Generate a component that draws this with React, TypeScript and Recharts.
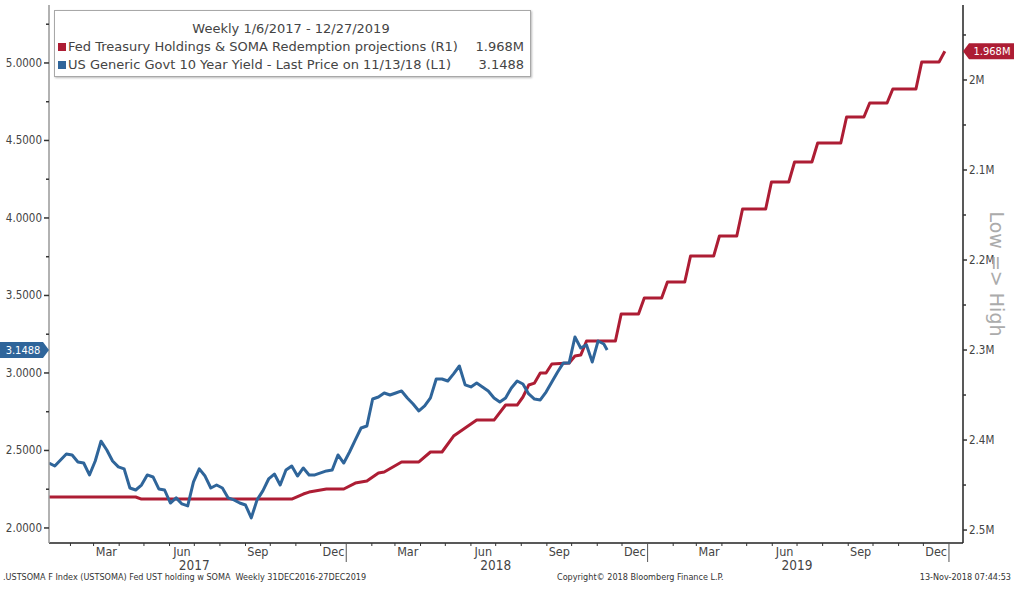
import React from 'react';
import { LineChart, Line, XAxis, YAxis } from 'recharts';

// 10Y yield, weekly closes starting Fri 1/6/2017 (week index 0)
const yieldWeekly = [
  2.419, 2.400, 2.439, 2.477, 2.471, 2.426, 2.419, 2.342, 2.432, 2.56,
  2.503, 2.432, 2.394, 2.381, 2.258, 2.245, 2.277, 2.342, 2.329, 2.252,
  2.245, 2.161, 2.194, 2.155, 2.142, 2.297, 2.381, 2.335, 2.258, 2.277,
  2.258, 2.194, 2.181, 2.161, 2.148, 2.065, 2.181, 2.239, 2.316, 2.348,
  2.277, 2.374, 2.400, 2.335, 2.387, 2.342, 2.342, 2.355, 2.368, 2.374,
  2.471, 2.419, 2.490, 2.568, 2.645, 2.658, 2.832, 2.845, 2.871, 2.858,
  2.871, 2.884, 2.839, 2.800, 2.755, 2.787, 2.839, 2.961, 2.961, 2.948,
  2.994, 3.045, 2.923, 2.910, 2.935, 2.910, 2.884, 2.839, 2.813, 2.839,
  2.903, 2.948, 2.929, 2.865, 2.832, 2.826, 2.877, 2.942, 3.006, 3.065,
  3.065, 3.232, 3.161, 3.181, 3.071, 3.206, 3.187,
];
const yieldLastDay = 676; // 11/13/2018
const yieldLast = 3.1488;

// Fed UST holdings (M), step vertices by week index
const somaWeeks = [
  0, 15, 16, 42, 44, 45, 48, 51, 53, 55, 57, 58, 61, 64, 66, 68, 70, 71, 72, 74,
  77, 79, 81, 82, 83, 84, 85, 86, 87, 90, 91, 92, 93, 98, 99, 102, 103, 106, 107, 110,
  111, 115, 116, 119, 120, 124, 125, 128, 129, 132, 133, 137, 138, 141, 142, 145, 146, 150, 151, 154,
  155,
];
const somaValues = [
  2.4633, 2.4633, 2.4656, 2.4656, 2.46, 2.4578, 2.4544, 2.4544, 2.4478, 2.4456, 2.4367, 2.4356, 2.4244, 2.4244, 2.4133, 2.4133, 2.3956, 2.3911, 2.3867, 2.3778,
  2.3778, 2.3611, 2.3611, 2.3522, 2.3389, 2.3367, 2.3256, 2.3256, 2.3156, 2.3144, 2.3067, 2.3056, 2.29, 2.29, 2.26, 2.26, 2.2422, 2.2422, 2.2244, 2.2244,
  2.1956, 2.1956, 2.1733, 2.1733, 2.1433, 2.1433, 2.1133, 2.1133, 2.0911, 2.0911, 2.07, 2.07, 2.0411, 2.0411, 2.0256, 2.0256, 2.01, 2.01, 1.98, 1.98,
  1.968,
];
const somaLast = 1.968;

const monthNames = ['Jan', 'Feb', 'Mar', 'Apr', 'May', 'Jun', 'Jul', 'Aug', 'Sep', 'Oct', 'Nov', 'Dec'];
const labeledMonths = ['Mar', 'Jun', 'Sep', 'Dec'];
const axisYears = [2017, 2018, 2019, 2020];
const leftTickValues = [2.0, 2.25, 2.5, 2.75, 3.0, 3.25, 3.5, 3.75, 4.0, 4.25, 4.5, 4.75, 5.0, 5.25];
const leftLabelValues = [2.0, 2.5, 3.0, 3.5, 4.0, 4.5, 5.0];
const rightTickValues = [1.95, 2.0, 2.05, 2.1, 2.15, 2.2, 2.25, 2.3, 2.35, 2.4, 2.45, 2.5];
const rightLabelValues = [2.0, 2.1, 2.2, 2.3, 2.4, 2.5];

const BLUE = '#2f659a';
const RED = '#ad1d34';
const FONT = "Tahoma, 'DejaVu Sans Condensed', 'DejaVu Sans', sans-serif";
const WIDE_FONT = "'DejaVu Sans', sans-serif";

const X_MIN = 0;
const X_MAX = 1107;
const START = Date.UTC(2017, 0, 6);
const dayOf = (y: number, m: number, d: number) => (Date.UTC(y, m, d) - START) / 864e5;

const blueData = [
  ...yieldWeekly.map((v, i) => ({ day: i * 7, v })),
  { day: yieldLastDay, v: yieldLast },
];
const redData = somaWeeks.map((w, i) => ({ day: w * 7, v: somaValues[i] }));

type XInfo = { kind: 'minor' | 'year' | 'label'; text?: string; year?: number };
const xInfo = new Map<number, XInfo>();
axisYears.forEach((y) => {
  for (let m = 0; m < 12; m++) {
    const s = dayOf(y, m, 1);
    const e = dayOf(y, m + 1, 1);
    if (s >= X_MIN && s <= X_MAX) {
      xInfo.set(s, { kind: m === 0 ? 'year' : 'minor', year: m === 6 ? y : undefined });
    }
    const mid = (s + e) / 2;
    if (labeledMonths.includes(monthNames[m]) && mid >= X_MIN && mid <= X_MAX) {
      xInfo.set(mid, { kind: 'label', text: monthNames[m] });
    }
  }
});
const xTicks = Array.from(xInfo.keys()).sort((a, b) => a - b);

const XTick = (props: any) => {
  const { x, y, payload } = props;
  const info = xInfo.get(payload.value);
  if (!info) return null;
  if (info.kind === 'label') {
    return (
      <text x={x} y={y + 13} textAnchor="middle" fontFamily={FONT} fontSize={12.5} fill="#444">
        {info.text}
      </text>
    );
  }
  return (
    <g>
      <line x1={x} x2={x} y1={y} y2={y + (info.kind === 'year' ? 19 : 3)} stroke={info.kind === 'year' ? '#555' : '#333'} strokeWidth={1} />
      {info.year ? (
        <text x={x} y={y + 27} textAnchor="middle" fontFamily={FONT} fontSize={13.5} fill="#444">
          {info.year}
        </text>
      ) : null}
    </g>
  );
};

const LeftTick = (props: any) => {
  const { x, y, payload } = props;
  const v = payload.value;
  if (v === yieldLast) {
    return (
      <g>
        <polygon points={`${x - 49},${y - 8} ${x - 6},${y - 8} ${x},${y} ${x - 6},${y + 8} ${x - 49},${y + 8}`} fill={BLUE} />
        <text x={x - 26} y={y + 4} textAnchor="middle" fontFamily={FONT} fontSize={11} fill="#fff">
          {yieldLast.toFixed(4)}
        </text>
      </g>
    );
  }
  const major = leftLabelValues.includes(v);
  return (
    <g>
      <line x1={x - (major ? 5 : 3)} x2={x} y1={y} y2={y} stroke="#333" strokeWidth={1.5} />
      {major ? (
        <text x={x - 7} y={y + 4} textAnchor="end" fontFamily={FONT} fontSize={11.5} fill="#444">
          {v.toFixed(4)}
        </text>
      ) : null}
    </g>
  );
};

const RightTick = (props: any) => {
  const { x, y, payload } = props;
  const v = payload.value;
  if (v === somaLast) {
    return (
      <g>
        <polygon points={`${x},${y} ${x + 6},${y - 8} ${x + 51},${y - 8} ${x + 51},${y + 8} ${x + 6},${y + 8}`} fill={RED} />
        <text x={x + 29} y={y + 4} textAnchor="middle" fontFamily={FONT} fontSize={11} fill="#fff">
          {somaLast.toFixed(3)}M
        </text>
      </g>
    );
  }
  const major = rightLabelValues.some((r) => Math.abs(r - v) < 1e-9);
  return (
    <g>
      <line x1={x} x2={x + (major ? 4 : 3)} y1={y} y2={y} stroke="#333" strokeWidth={1.5} />
      {major ? (
        <text x={x + 6} y={y + 4} textAnchor="start" fontFamily={FONT} fontSize={11.5} fill="#444">
          {`${parseFloat(v.toFixed(1))}M`}
        </text>
      ) : null}
    </g>
  );
};

const legendTitle = 'Weekly 1/6/2017 - 12/27/2019';
const legendRows = [
  { color: RED, name: 'Fed Treasury Holdings & SOMA Redemption projections (R1)', value: '1.968M' },
  { color: BLUE, name: 'US Generic Govt 10 Year Yield - Last Price on 11/13/18 (L1)', value: '3.1488' },
];

export default function App() {
  return (
    <div style={{ position: 'absolute', left: 0, top: 0, width: 1024, height: 603, background: '#fff', fontFamily: FONT }}>
      <LineChart width={1024} height={603} margin={{ top: 5, right: 0, bottom: 0, left: 0 }}>
        <XAxis
          dataKey="day"
          type="number"
          domain={[X_MIN, X_MAX]}
          ticks={xTicks}
          interval={0}
          tick={<XTick />}
          tickLine={false}
          tickSize={0}
          tickMargin={0}
          height={60}
          axisLine={{ stroke: '#222', strokeWidth: 1.5 }}
          allowDataOverflow
        />
        <YAxis
          yAxisId="left"
          orientation="left"
          type="number"
          width={49}
          domain={[1.903, 5.374]}
          ticks={[...leftTickValues, yieldLast]}
          interval={0}
          tick={<LeftTick />}
          tickLine={false}
          tickSize={0}
          tickMargin={0}
          axisLine={{ stroke: '#999', strokeWidth: 1.5 }}
          allowDataOverflow
        />
        <YAxis
          yAxisId="right"
          orientation="right"
          type="number"
          width={61}
          reversed
          domain={[1.9167, 2.5144]}
          ticks={[...rightTickValues, somaLast]}
          interval={0}
          tick={<RightTick />}
          tickLine={false}
          tickSize={0}
          tickMargin={0}
          axisLine={{ stroke: '#222', strokeWidth: 1.5 }}
          allowDataOverflow
          label={{ value: 'Low => High', angle: 90, position: 'center', dx: 3, fill: '#ababab', fontSize: 19, fontFamily: WIDE_FONT }}
        />
        <Line
          data={redData}
          dataKey="v"
          yAxisId="right"
          type="linear"
          stroke={RED}
          strokeWidth={3}
          dot={false}
          isAnimationActive={false}
          strokeLinejoin="round"
        />
        <Line
          data={blueData}
          dataKey="v"
          yAxisId="left"
          type="linear"
          stroke={BLUE}
          strokeWidth={3}
          dot={false}
          isAnimationActive={false}
          strokeLinejoin="round"
        />
      </LineChart>

      <div
        style={{
          position: 'absolute',
          left: 54,
          top: 10,
          width: 477,
          height: 67,
          border: '1px solid #a8a8a8',
          boxShadow: '1px 1px 2px #bbb',
          background: '#fff',
          color: '#444',
          fontFamily: WIDE_FONT,
          fontSize: 13,
          lineHeight: '18px',
          boxSizing: 'border-box',
          padding: '9px 6px 0 3px',
        }}
      >
        <div style={{ textAlign: 'center' }}>{legendTitle}</div>
        {legendRows.map((r) => (
          <div key={r.name} style={{ display: 'flex', alignItems: 'center' }}>
            <span style={{ display: 'inline-block', width: 8, height: 8, background: r.color, marginRight: 2 }} />
            <span style={{ flex: 1, whiteSpace: 'nowrap' }}>{r.name}</span>
            <span>{r.value}</span>
          </div>
        ))}
      </div>

      <div style={{ position: 'absolute', left: 3, top: 572, fontSize: 9, color: '#333', whiteSpace: 'nowrap' }}>
        .USTSOMA F Index (USTSOMA) Fed UST holding w SOMA&nbsp; Weekly 31DEC2016-27DEC2019
      </div>
      <div style={{ position: 'absolute', left: 557, top: 572, fontSize: 9, color: '#333', whiteSpace: 'nowrap' }}>
        Copyright© 2018 Bloomberg Finance L.P.
      </div>
      <div style={{ position: 'absolute', right: 13, top: 572, fontSize: 9, color: '#333', whiteSpace: 'nowrap' }}>
        13-Nov-2018 07:44:53
      </div>
    </div>
  );
}
